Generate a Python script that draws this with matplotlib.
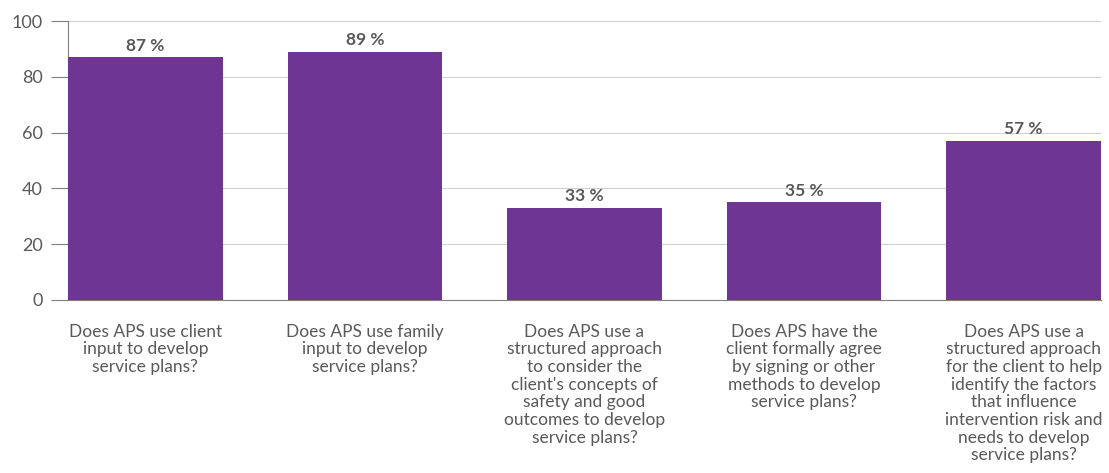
import matplotlib
matplotlib.use("Agg")
import matplotlib.pyplot as plt

categories = [
    "Does APS use client\ninput to develop\nservice plans?",
    "Does APS use family\ninput to develop\nservice plans?",
    "Does APS use a\nstructured approach\nto consider the\nclient's concepts of\nsafety and good\noutcomes to develop\nservice plans?",
    "Does APS have the\nclient formally agree\nby signing or other\nmethods to develop\nservice plans?",
    "Does APS use a\nstructured approach\nfor the client to help\nidentify the factors\nthat influence\nintervention risk and\nneeds to develop\nservice plans?",
]
values = [87, 89, 33, 35, 57]
yticks = [0, 20, 40, 60, 80, 100]

plt.rcParams["font.family"] = ["Lato", "DejaVu Sans"]
text_color = "#595959"
bar_color = "#6f3592"
width = 0.705

fig = plt.figure(figsize=(11.09, 4.73), dpi=100)
ax = fig.add_axes([68 / 1109, 1 - 300 / 473, (1101 - 68) / 1109, (300 - 21) / 473])

x = list(range(len(values)))
ax.bar(x, values, width=width, color=bar_color, zorder=3)
for xi, v in zip(x, values):
    ax.text(xi, v + 1.3, f"{v} %", ha="center", va="bottom", fontsize=12.5,
            fontweight="bold", color=text_color, zorder=4)

ax.set_xlim(-width / 2, len(values) - 1 + width / 2)
ax.set_ylim(0, 100)
ax.set_yticks(yticks)
ax.set_yticklabels([str(t) for t in yticks], fontsize=13, color=text_color)
ax.yaxis.grid(True, color="#d0d0d0", linewidth=0.8, zorder=0)
ax.tick_params(axis="y", length=12, width=0.8, color="#7f7f7f", pad=6)
ax.set_xticks(x)
ax.set_xticklabels(categories, fontsize=12.5, color=text_color, linespacing=1.13)
ax.tick_params(axis="x", length=0, pad=17)

for side in ["top", "right"]:
    ax.spines[side].set_visible(False)
ax.spines["left"].set_color("#7f7f7f")
ax.spines["left"].set_linewidth(0.8)
ax.spines["bottom"].set_color("#7f7f7f")
ax.spines["bottom"].set_linewidth(0.8)

fig.savefig("out.png", dpi=100)
